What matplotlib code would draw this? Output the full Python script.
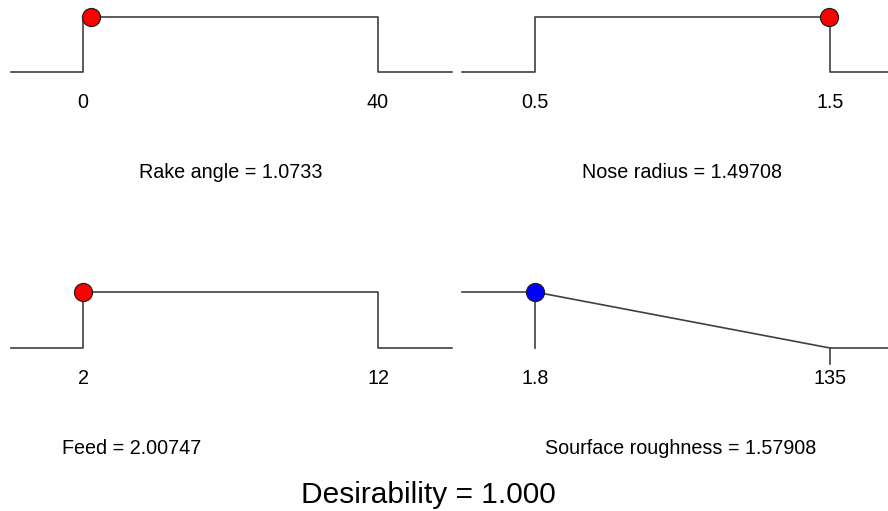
import matplotlib
matplotlib.use("Agg")
import matplotlib.pyplot as plt

plt.rcParams["font.family"] = ["Liberation Sans", "DejaVu Sans"]

# Optimisation result: factor ranges, goals and optimal settings
names = ["Rake angle", "Nose radius", "Feed", "Sourface roughness"]
lows = [0, 0.5, 2, 1.8]
highs = [40, 1.5, 12, 135]
low_labels = ["0", "0.5", "2", "1.8"]
high_labels = ["40", "1.5", "12", "135"]
values = [1.0733, 1.49708, 2.00747, 1.57908]
value_labels = ["1.0733", "1.49708", "2.00747", "1.57908"]
goals = ["range", "range", "range", "minimize"]
dot_colors = ["#ff0000", "#ff0000", "#ff0000", "#0000ff"]
desirability = 1.000

W, H = 888, 511
fig = plt.figure(figsize=(W / 100, H / 100), dpi=100)

# pixel layout of each ramp panel: (low px, high px, left px, right px, baseline px, top px, title centre px)
panels = [
    (83, 378, 11, 452, 72, 17, 231),
    (535, 830, 462, 904, 72, 17, 682),
    (83, 378, 11, 452, 348, 292, 132),
    (535, 830, 462, 904, 348, 292, 681),
]

LINE = "#404040"
FS = 14.2

for i, (plo, phi, pl, pr, pb, pt, ptitle) in enumerate(panels):
    lo, hi = lows[i], highs[i]
    scale = (hi - lo) / (phi - plo)
    xmin = lo - (plo - pl) * scale
    xmax = hi + (pr - phi) * scale
    # desirability 0..1 maps baseline..top of the ramp
    ax_top, ax_bot = pt - 15, pb + 110
    dy = 1.0 / (pb - pt)
    ymax = 1 + (pt - ax_top) * dy
    ymin = -(ax_bot - pb) * dy
    ax = fig.add_axes([pl / W, 1 - ax_bot / H, (pr - pl) / W, (ax_bot - ax_top) / H])
    ax.set_xlim(xmin, xmax)
    ax.set_ylim(ymin, ymax)
    ax.axis("off")

    v = values[i]
    if goals[i] == "range":
        xs = [xmin, lo, lo, hi, hi, xmax]
        ys = [0, 0, 1, 1, 0, 0]
        ax.plot(xs, ys, color=LINE, lw=1.2, clip_on=False)
        d = 1.0 if lo <= v <= hi else 0.0
    else:
        xs = [xmin, lo, hi, xmax]
        ys = [1, 1, 0, 0]
        ax.plot(xs, ys, color=LINE, lw=1.2, clip_on=False)
        ax.plot([lo, lo], [0, 1], color=LINE, lw=1.2)
        ax.plot([hi, hi], [0, -16 * dy], color=LINE, lw=1.2)
        if v <= lo:
            d = 1.0
        elif v >= hi:
            d = 0.0
        else:
            d = (hi - v) / (hi - lo)

    ax.plot([v], [d], "o", ms=13, mfc=dot_colors[i], mec="#202020", mew=0.9,
            zorder=5, clip_on=False)

    ax.text(lo, -30 * dy, low_labels[i], ha="center", va="center", fontsize=FS)
    ax.text(hi, -30 * dy, high_labels[i], ha="center", va="center", fontsize=FS)

    xc = xmin + (ptitle - pl) * scale
    ax.text(xc, -100 * dy, f"{names[i]} = {value_labels[i]}",
            ha="center", va="center", fontsize=FS)

fig.text(428 / W, 1 - 495 / H, f"Desirability = {desirability:.3f}",
         ha="center", va="center", fontsize=21.5)

fig.savefig("out.png", dpi=100, facecolor="white")
